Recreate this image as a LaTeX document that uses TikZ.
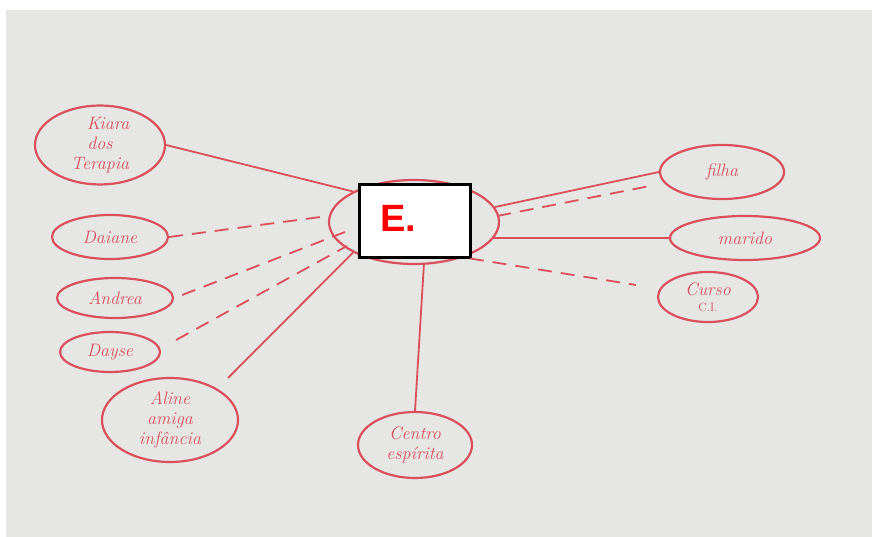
\documentclass[tikz,border=0pt]{standalone}
\usepackage{fontspec}
\setsansfont{Liberation Sans}
\usetikzlibrary{shapes.geometric}
\definecolor{ink}{HTML}{D9505C}
\definecolor{paper}{HTML}{E6E6E4}
\begin{document}
\begin{tikzpicture}[x=1pt,y=-1pt,
  bub/.style={draw=ink,line width=2.2pt,ellipse,minimum width=#1,inner sep=0pt,
    text=ink,font=\fontsize{18}{20}\selectfont\itshape,align=center},
  link/.style={draw=ink,line width=1.8pt},
  dlink/.style={draw=ink,line width=1.8pt,dash pattern=on 14pt off 9pt}]
\useasboundingbox (0,0) rectangle (877,537);
\fill[white] (0,0) rectangle (877,537);
\fill[paper] (6,10) rectangle (872,537);
% center
\node[bub=170pt,minimum height=84pt] (c) at (414,222) {};
\node[draw=black,fill=white,line width=2.2pt,minimum width=111pt,minimum height=73pt] (box) at (415,221) {};
\node[text=red,font=\sffamily\bfseries\fontsize{38}{38}\selectfont] (e) at (398,218) {E.};
% left
\node[bub=130pt,minimum height=70pt] (kiara) at (100,145) {\phantom{xx}Kiara\\dos\\Terapia};
\node[bub=116pt,minimum height=44pt] (daiane) at (110,237) {Daiane};
\node[bub=116pt,minimum height=40pt] (andrea) at (115,298) {Andrea};
\node[bub=100pt,minimum height=40pt] (dayse) at (110,352) {Dayse};
\node[bub=136pt,minimum height=84pt] (aline) at (170,420) {Aline\\amiga\\infância};
\node[bub=114pt,minimum height=66pt] (centro) at (415,445) {Centro\\espírita};
% right
\node[bub=124pt,minimum height=54pt] (filha) at (722,172) {filha};
\node[bub=150pt,minimum height=44pt] (marido) at (745,238) {marido};
\node[bub=100pt,minimum height=50pt] (curso) at (708,297) {Curso\\[-4pt]{\normalfont\fontsize{12}{12}\selectfont C.I.}};
% connectors
\draw[link] (kiara.east) -- (c.north west);
\draw[dlink] (daiane.east) -- (c.west |- 0,216);
\draw[dlink] (andrea.east) ++(8,-3) coordinate (a1) -- (345,232) coordinate (a2);
\draw[dlink] (dayse.east) ++(15,-12) coordinate (d1) -- (347,246) coordinate (d2);
\draw[link] (228,378) coordinate (al1) -- (c.south west);
\draw[link] (c.south) ++(10,-2) -- (centro.north);
\draw[link] (c.east) ++(-5,-15) -- (filha.west);
\draw[dlink] (c.east) ++(-3,-6) -- (655,185);
\draw[link] (c.east) ++(-8,16) -- (marido.west);
\draw[dlink] (c.south east) ++(-5,6) -- (636,285) coordinate (cu1);
\end{tikzpicture}
\end{document}
